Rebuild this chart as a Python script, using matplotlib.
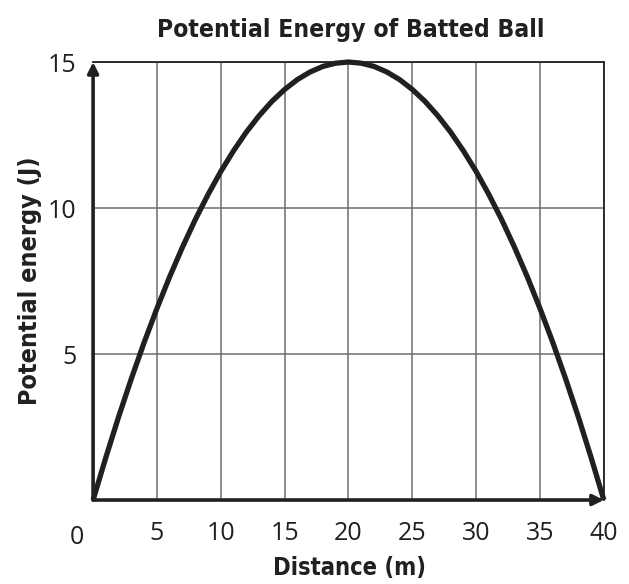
import numpy as np
import matplotlib.pyplot as plt

# Data (1 m steps)
distance = list(range(0, 41))
energy = [0, 1.46, 2.85, 4.16, 5.4, 6.56, 7.65, 8.66, 9.6, 10.46, 11.25,
          11.96, 12.6, 13.16, 13.65, 14.06, 14.4, 14.66, 14.85, 14.96, 15,
          14.96, 14.85, 14.66, 14.4, 14.06, 13.65, 13.16, 12.6, 11.96, 11.25,
          10.46, 9.6, 8.66, 7.65, 6.56, 5.4, 4.16, 2.85, 1.46, 0]
x_ticks = [5, 10, 15, 20, 25, 30, 35, 40]
y_ticks = [5, 10, 15]

bold_kw = dict(family='DejaVu Sans', fontweight='bold', fontstretch='condensed',
               color='#231f20', ha='center', va='center')
num_font = 'Open Sans'

fig = plt.figure(figsize=(6.29, 5.84), dpi=100)
ax = fig.add_axes([0.148, 0.1438, 0.812, 0.75])

ax.set_xlim(0, 40)
ax.set_ylim(0, 15)

for x in x_ticks:
    ax.axvline(x, color='#6d6d6d', lw=1.1, zorder=1)
for y in y_ticks:
    ax.axhline(y, color='#6d6d6d', lw=1.1, zorder=1)

ax.plot(distance, energy, color='#231f20', lw=3.8, solid_capstyle='butt',
        solid_joinstyle='round', zorder=3, clip_on=False)

for side in ['top', 'right']:
    ax.spines[side].set_linewidth(1.3)
    ax.spines[side].set_color('#231f20')
for side in ['left', 'bottom']:
    ax.spines[side].set_visible(False)

# axes with arrows
ax.annotate('', xy=(0, 15), xytext=(0, 0),
            arrowprops=dict(arrowstyle='-|>', color='#231f20', lw=2.6,
                            mutation_scale=16, shrinkA=0, shrinkB=0),
            annotation_clip=False, zorder=4)
ax.annotate('', xy=(40, 0), xytext=(0, 0),
            arrowprops=dict(arrowstyle='-|>', color='#231f20', lw=2.6,
                            mutation_scale=16, shrinkA=0, shrinkB=0),
            annotation_clip=False, zorder=4)

ax.set_xticks(x_ticks)
ax.set_yticks(y_ticks)
ax.tick_params(length=0, labelsize=18, labelcolor='#231f20')
ax.tick_params(axis='x', pad=15)
ax.tick_params(axis='y', pad=12)
for lbl in ax.get_xticklabels() + ax.get_yticklabels():
    lbl.set_family(num_font)
ax.text(-0.75, -0.85, '0', ha='right', va='top', fontsize=18, family=num_font,
        color='#231f20')

fig.text(0.555, 0.028, 'Distance (m)', fontsize=17, **bold_kw)
fig.text(0.048, 0.52, 'Potential energy (J)', fontsize=18, rotation=90, **bold_kw)
fig.text(0.557, 0.948, 'Potential Energy of Batted Ball', fontsize=17.7, **bold_kw)

fig.savefig('out.png', dpi=100)
